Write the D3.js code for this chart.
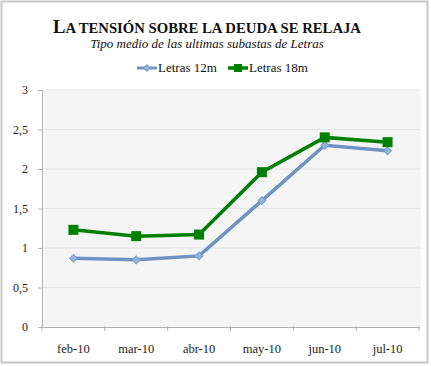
<!DOCTYPE html>
<html><head><meta charset="utf-8">
<script src="https://d3js.org/d3.v7.min.js"></script>
<style>body{margin:0;background:#fff;}svg{display:block;}</style>
</head><body>
<script>
const categories = ["feb-10","mar-10","abr-10","may-10","jun-10","jul-10"];
const letras12 = [0.87, 0.85, 0.90, 1.60, 2.30, 2.23];
const letras18 = [1.23, 1.15, 1.17, 1.96, 2.40, 2.34];
const yTicks = [0, 0.5, 1, 1.5, 2, 2.5, 3];
const seriesNames = ["Letras 12m", "Letras 18m"];

const W = 431, H = 366;
const svg = d3.select("body").append("svg").attr("width", W).attr("height", H);
const font = "'Liberation Serif', 'DejaVu Serif', serif";

svg.append("rect").attr("x", 1.5).attr("y", 1.5).attr("width", 426).attr("height", 361)
  .attr("fill", "#fff").attr("stroke", "#c8c8c8").attr("stroke-width", 2);

const m = {left: 42, right: 419, top: 90, bottom: 327};
const x = d3.scaleBand().domain(categories).range([m.left, m.right]);
const y = d3.scaleLinear().domain([0, 3]).range([m.bottom, m.top]);

svg.append("rect").attr("x", m.left + 2).attr("y", m.top + 1)
  .attr("width", m.right - m.left).attr("height", m.bottom - m.top - 2)
  .attr("fill", "#f5f5f5");

// gridlines
svg.append("g").selectAll("line").data(yTicks.filter(d => d > 0)).join("line")
  .attr("x1", m.left).attr("x2", m.right + 1)
  .attr("y1", d => y(d)).attr("y2", d => y(d))
  .attr("stroke", "#e2e2e2").attr("stroke-width", 1);

// y axis
const yAxis = svg.append("g").attr("transform", `translate(${m.left},0)`)
  .call(d3.axisLeft(y).tickValues(yTicks).tickSize(4).tickPadding(10)
    .tickFormat(d => String(d).replace(".", ",")));
yAxis.select(".domain").attr("stroke", "#b0b0b0");
yAxis.selectAll(".tick line").attr("stroke", "#b0b0b0");
yAxis.selectAll("text").attr("font-family", font).attr("font-size", 12).attr("fill", "#222");

// x axis
const xAxis = svg.append("g").attr("transform", `translate(0,${m.bottom})`)
  .call(d3.axisBottom(x).tickSize(0).tickPadding(17));
xAxis.select(".domain").attr("stroke", "#b0b0b0");
xAxis.selectAll(".tick line").remove();
xAxis.selectAll("text").attr("font-family", font).attr("font-size", 12.5).attr("fill", "#222");
svg.append("g").selectAll("line").data(d3.range(categories.length + 1)).join("line")
  .attr("x1", i => m.left + i * x.step()).attr("x2", i => m.left + i * x.step())
  .attr("y1", m.bottom - 1).attr("y2", m.bottom + 4)
  .attr("stroke", "#b0b0b0");

const cx = d => x(d) + x.bandwidth() / 2;
const line = d3.line().x((d, i) => cx(categories[i])).y(d => y(d));

// 12m
svg.append("path").datum(letras12).attr("d", line).attr("fill", "none")
  .attr("stroke", "#6e92c2").attr("stroke-width", 3.5);
svg.append("g").selectAll("path").data(letras12).join("path")
  .attr("d", d3.symbol(d3.symbolSquare, 30))
  .attr("transform", (d, i) => `translate(${cx(categories[i])},${y(d)}) rotate(45)`)
  .attr("fill", "#93b4e0").attr("stroke", "#7c9fcf").attr("stroke-width", 1);

// 18m
svg.append("path").datum(letras18).attr("d", line).attr("fill", "none")
  .attr("stroke", "#008000").attr("stroke-width", 3.5);
svg.append("g").selectAll("rect").data(letras18).join("rect")
  .attr("x", (d, i) => cx(categories[i]) - 5).attr("y", d => y(d) - 5)
  .attr("width", 10).attr("height", 10).attr("fill", "#008000");

// title (manual small caps)
const title = "La tensión sobre la deuda se relaja";
const t = svg.append("text").attr("x", 207).attr("y", 33).attr("text-anchor", "middle")
  .attr("font-family", font).attr("font-weight", "bold")
  .attr("fill", "#111")
  .attr("textLength", 308).attr("lengthAdjust", "spacingAndGlyphs");
t.append("tspan").attr("font-size", 19).text(title[0].toUpperCase());
t.append("tspan").attr("font-size", 15).text(title.slice(1).toUpperCase());
svg.append("text").attr("x", 207).attr("y", 48).attr("text-anchor", "middle")
  .attr("font-family", font).attr("font-style", "italic").attr("font-size", 13)
  .attr("fill", "#111").text("Tipo medio de las ultimas subastas de Letras");

// legend
const lg = svg.append("g");
const lx = [137, 228];
lg.append("line").attr("x1", lx[0]).attr("x2", lx[0] + 20).attr("y1", 68).attr("y2", 68)
  .attr("stroke", "#6e92c2").attr("stroke-width", 3);
lg.append("path").attr("d", d3.symbol(d3.symbolSquare, 22))
  .attr("transform", `translate(${lx[0] + 10},68) rotate(45)`).attr("fill", "#93b4e0").attr("stroke", "#7c9fcf");
lg.append("line").attr("x1", lx[1]).attr("x2", lx[1] + 20).attr("y1", 68).attr("y2", 68)
  .attr("stroke", "#008000").attr("stroke-width", 3.5);
lg.append("rect").attr("x", lx[1] + 6).attr("y", 64).attr("width", 8).attr("height", 8).attr("fill", "#008000");
lg.selectAll("text").data(seriesNames).join("text")
  .attr("x", (d, i) => lx[i] + 21).attr("y", 72)
  .attr("font-family", font).attr("font-size", 13).attr("fill", "#111").text(d => d);
</script>
</body></html>
